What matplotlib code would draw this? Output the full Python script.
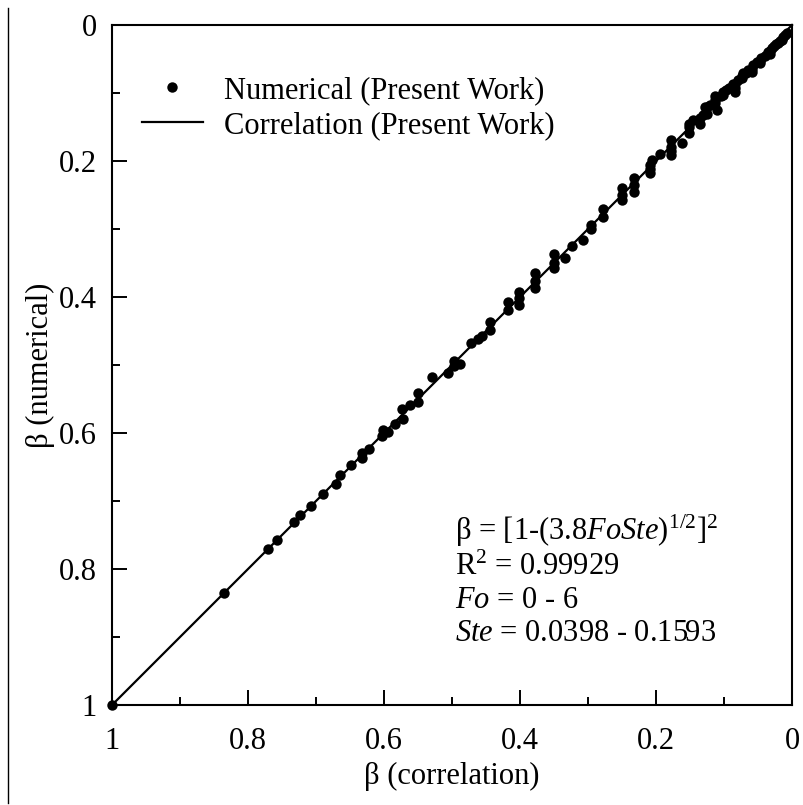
import matplotlib
matplotlib.use('Agg')
import matplotlib.pyplot as plt
from matplotlib.lines import Line2D
from matplotlib.ticker import MultipleLocator

plt.rcParams['font.family'] = ['Liberation Serif', 'DejaVu Serif']
plt.rcParams['mathtext.fontset'] = 'custom'
plt.rcParams['mathtext.rm'] = 'Liberation Serif'
plt.rcParams['mathtext.it'] = 'Liberation Serif:italic'

# beta from the correlation vs beta from the numerical runs
beta_corr = [0.008, 0.011, 0.013, 0.015, 0.018, 0.020, 0.023, 0.026, 0.030, 0.032,
             0.032, 0.036, 0.040, 0.045, 0.047, 0.047, 0.052, 0.057, 0.059, 0.059,
             0.064, 0.068, 0.072, 0.074, 0.074, 0.080, 0.084, 0.087, 0.084, 0.084,
             0.092, 0.097, 0.101, 0.101, 0.105, 0.113, 0.113, 0.113, 0.111, 0.120,
             0.125, 0.128, 0.125, 0.131, 0.135, 0.135, 0.145, 0.152, 0.152, 0.152,
             0.162, 0.178, 0.178, 0.178, 0.178, 0.194, 0.206, 0.209, 0.209, 0.209,
             0.233, 0.233, 0.233, 0.250, 0.250, 0.250, 0.278, 0.278, 0.295, 0.295,
             0.307, 0.324, 0.334, 0.350, 0.350, 0.350, 0.378, 0.378, 0.378, 0.402,
             0.402, 0.402, 0.417, 0.417, 0.444, 0.444, 0.456, 0.462, 0.472, 0.488,
             0.497, 0.497, 0.506, 0.530, 0.550, 0.550, 0.562, 0.573, 0.572, 0.584,
             0.594, 0.601, 0.603, 0.622, 0.633, 0.633, 0.648, 0.665, 0.670, 0.690,
             0.708, 0.724, 0.732, 0.758, 0.771, 0.835, 1.000]
beta_num = [0.012, 0.015, 0.017, 0.022, 0.024, 0.027, 0.028, 0.031, 0.034, 0.038,
            0.042, 0.040, 0.045, 0.049, 0.053, 0.056, 0.055, 0.059, 0.064, 0.069,
            0.066, 0.070, 0.071, 0.075, 0.078, 0.081, 0.086, 0.086, 0.092, 0.098,
            0.092, 0.095, 0.098, 0.103, 0.105, 0.105, 0.110, 0.115, 0.125, 0.118,
            0.121, 0.120, 0.131, 0.132, 0.137, 0.145, 0.140, 0.145, 0.150, 0.159,
            0.174, 0.169, 0.179, 0.185, 0.191, 0.189, 0.199, 0.206, 0.212, 0.218,
            0.225, 0.235, 0.245, 0.240, 0.250, 0.257, 0.270, 0.282, 0.294, 0.300,
            0.316, 0.325, 0.343, 0.336, 0.350, 0.358, 0.365, 0.377, 0.387, 0.392,
            0.402, 0.412, 0.407, 0.419, 0.436, 0.448, 0.458, 0.462, 0.468, 0.498,
            0.494, 0.502, 0.511, 0.518, 0.541, 0.554, 0.559, 0.564, 0.580, 0.586,
            0.598, 0.596, 0.605, 0.624, 0.629, 0.636, 0.647, 0.662, 0.675, 0.690,
            0.708, 0.721, 0.731, 0.757, 0.771, 0.835, 1.000]

fit_x = [0.0, 1.0]
fit_y = [0.0, 1.0]

FS = 22

fig = plt.figure(figsize=(8.04, 8.05), dpi=100)
ax = fig.add_axes([0.1393, 0.1242, 0.8458, 0.8447])

ax.plot(fit_x, fit_y, color='black', lw=1.6, label='Correlation (Present Work)', clip_on=False)
ax.plot(beta_corr, beta_num, 'o', color='black', ms=7.5, mew=0,
        label='Numerical (Present Work)', clip_on=False)

ax.set_xlim(1, 0)
ax.set_ylim(1, 0)
ax.xaxis.set_major_locator(MultipleLocator(0.2))
ax.xaxis.set_minor_locator(MultipleLocator(0.1))
ax.yaxis.set_major_locator(MultipleLocator(0.2))
ax.yaxis.set_minor_locator(MultipleLocator(0.1))
ax.xaxis.set_major_formatter(lambda v, p: '%g' % round(v, 1))
ax.yaxis.set_major_formatter(lambda v, p: '%g' % round(v, 1))
ax.tick_params(which='major', direction='in', length=10.5, width=1.4, labelsize=FS)
ax.tick_params(which='minor', direction='in', length=5.5, width=1.4)
ax.tick_params(axis='x', which='major', pad=16)
ax.tick_params(axis='y', which='major', pad=11)
for s in ax.spines.values():
    s.set_linewidth(1.5)

ax.set_xlabel('β (correlation)', fontsize=FS, labelpad=4)
ax.set_ylabel('β (numerical)', fontsize=FS, labelpad=3)

handles, labels = ax.get_legend_handles_labels()
ax.legend(handles[::-1], labels[::-1], loc='upper left', bbox_to_anchor=(0.026, 0.943),
          borderaxespad=0, frameon=False, fontsize=FS, handlelength=2.0,
          handletextpad=0.7, labelspacing=0.2)

ann = ('β = [1-(3.8$\\mathit{FoSte}$)$^{1/2}$]$^2$\n'
       'R$^2$ = 0.99929\n'
       '$\\mathit{Fo}$ = 0 - 6\n'
       '$\\mathit{Ste}$ = 0.0398 - 0.1593')
ax.text(0.505, 0.282, ann, transform=ax.transAxes, fontsize=FS,
        va='top', ha='left', linespacing=1.17)

fig.add_artist(Line2D([0.0099, 0.0099], [1 - 8 / 805, 0.003], color='black', lw=1.0))

fig.savefig('out.png', dpi=100)
